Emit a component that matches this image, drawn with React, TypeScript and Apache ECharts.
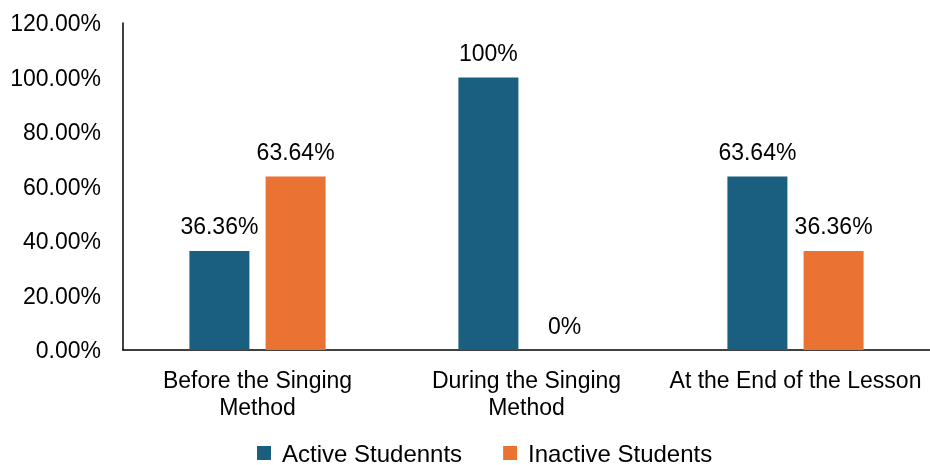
import React, { useEffect, useRef } from "react";
import * as echarts from "echarts";

const categories = ["Before the Singing\nMethod", "During the Singing\nMethod", "At the End of the Lesson"];
const activeValues = [36.36, 100, 63.64];
const inactiveValues = [63.64, 0, 36.36];
const activeLabels = ["36.36%", "100%", "63.64%"];
const inactiveLabels = ["63.64%", "0%", "36.36%"];
const seriesNames = ["Active Studennts", "Inactive Students"];

export default function App() {
  const ref = useRef<HTMLDivElement>(null);
  useEffect(() => {
    const chart = echarts.init(ref.current!, null, { renderer: "svg" });
    const font = "'Liberation Sans', Arial, sans-serif";
    chart.setOption({
      animation: false,
      textStyle: { fontFamily: font },
      grid: { left: 123, right: 0, top: 23, bottom: 115 },
      legend: {
        top: 436,
        left: 252,
        itemWidth: 14,
        itemHeight: 14,
        itemGap: 41,
        icon: "rect",
        textStyle: { fontSize: 24, color: "#000", fontFamily: font, padding: [0, 0, 0, 6] },
        data: seriesNames,
      },
      xAxis: {
        type: "category",
        data: categories,
        axisLine: { lineStyle: { color: "#000", width: 1.5 } },
        axisTick: { show: false },
        axisLabel: { fontSize: 23, color: "#000", margin: 16, lineHeight: 27, interval: 0, fontFamily: font },
      },
      yAxis: {
        type: "value",
        min: 0,
        max: 120,
        interval: 20,
        axisLine: { show: true, lineStyle: { color: "#000", width: 1.5 } },
        axisTick: { show: false },
        splitLine: { show: false },
        axisLabel: {
          fontSize: 23,
          color: "#000",
          margin: 22,
          fontFamily: font,
          formatter: (v: number) => v.toFixed(2) + "%",
        },
      },
      series: [
        {
          name: seriesNames[0],
          type: "bar",
          data: activeValues,
          barWidth: 60,
          barGap: "27%",
          itemStyle: { color: "#1a5f80" },
          label: {
            show: true,
            position: "top",
            distance: 13,
            fontSize: 23,
            color: "#000",
            fontFamily: font,
            formatter: (p: any) => activeLabels[p.dataIndex],
          },
        },
        {
          name: seriesNames[1],
          type: "bar",
          data: inactiveValues,
          barWidth: 60,
          barGap: "27%",
          itemStyle: { color: "#ea7334" },
          label: {
            show: true,
            position: "top",
            distance: 13,
            fontSize: 23,
            color: "#000",
            fontFamily: font,
            formatter: (p: any) => inactiveLabels[p.dataIndex],
          },
        },
      ],
    });
    return () => chart.dispose();
  }, []);
  return <div ref={ref} style={{ position: "fixed", left: 0, top: 0, width: 930, height: 465 }} />;
}
